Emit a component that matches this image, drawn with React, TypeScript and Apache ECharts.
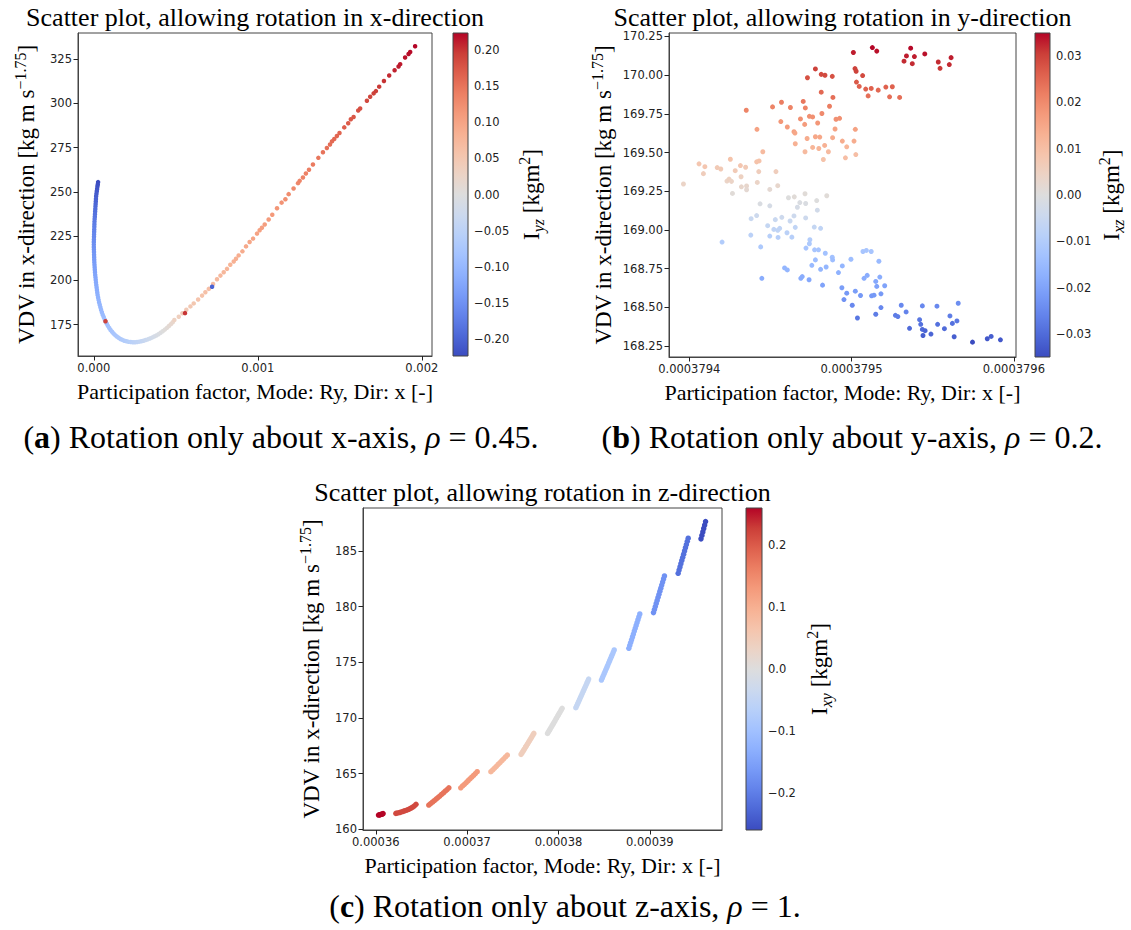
import React, { useEffect, useRef } from "react";
import * as echarts from "echarts";

// matplotlib "coolwarm" colormap, 17 evenly spaced stops
const COOLWARM = ["#3b4cc0", "#4d68d7", "#6282ea", "#779af7", "#8db0fe", "#a3c2ff", "#b8d0f9", "#ccd9ee", "#dddddd", "#ecd3c5", "#f5c4ac", "#f7b193", "#f49a7b", "#ec7f63", "#de604d", "#cb3e38", "#b40426"];

// ---------- Panel (a): rotation about x ----------
const pfA = [
  0.026e-3, 0.024e-3, 0.022e-3, 0.020e-3, 0.018e-3, 0.016e-3, 0.014e-3, 0.013e-3, 0.012e-3, 0.011e-3,
  0.010e-3, 0.009e-3, 0.008e-3, 0.007e-3, 0.006e-3, 0.005e-3, 0.004e-3, 0.0035e-3, 0.003e-3, 0.0025e-3,
  0.002e-3, 0.0015e-3, 0.001e-3, 0.0005e-3, 0.0, 0.0, 0.0, 0.0005e-3, 0.001e-3, 0.0015e-3,
  0.002e-3, 0.0025e-3, 0.003e-3, 0.004e-3, 0.005e-3, 0.006e-3, 0.007e-3, 0.0085e-3, 0.010e-3, 0.0115e-3,
  0.013e-3, 0.015e-3, 0.017e-3, 0.019e-3, 0.021e-3, 0.023e-3, 0.026e-3, 0.029e-3, 0.032e-3, 0.036e-3,
  0.040e-3, 0.044e-3, 0.049e-3, 0.054e-3, 0.060e-3, 0.066e-3, 0.072e-3, 0.079e-3, 0.086e-3, 0.094e-3,
  0.102e-3, 0.111e-3, 0.120e-3, 0.130e-3, 0.140e-3, 0.151e-3, 0.162e-3, 0.174e-3, 0.186e-3, 0.199e-3,
  0.212e-3, 0.225e-3, 0.238e-3, 0.251e-3, 0.264e-3, 0.277e-3, 0.290e-3, 0.303e-3, 0.316e-3, 0.329e-3,
  0.342e-3, 0.355e-3, 0.368e-3, 0.381e-3, 0.394e-3, 0.407e-3, 0.420e-3, 0.433e-3, 0.446e-3, 0.458e-3,
  0.470e-3, 0.481e-3,
  0.491e-3, 0.518e-3, 0.540e-3, 0.564e-3, 0.589e-3, 0.609e-3, 0.636e-3, 0.660e-3, 0.680e-3, 0.701e-3,
  0.727e-3, 0.751e-3, 0.772e-3, 0.792e-3, 0.812e-3, 0.832e-3, 0.853e-3, 0.867e-3, 0.883e-3, 0.906e-3,
  0.928e-3, 0.950e-3, 0.971e-3, 0.995e-3, 1.011e-3, 1.025e-3, 1.042e-3, 1.066e-3, 1.088e-3, 1.117e-3,
  1.145e-3, 1.168e-3, 1.188e-3, 1.218e-3, 1.245e-3, 1.255e-3, 1.275e-3, 1.293e-3, 1.312e-3, 1.336e-3,
  1.369e-3, 1.397e-3, 1.421e-3, 1.440e-3, 1.452e-3, 1.466e-3, 1.482e-3, 1.498e-3, 1.527e-3, 1.551e-3,
  1.567e-3, 1.584e-3, 1.612e-3, 1.624e-3, 1.665e-3, 1.685e-3, 1.706e-3, 1.720e-3, 1.740e-3, 1.769e-3,
  1.801e-3, 1.834e-3, 1.858e-3, 1.868e-3, 1.898e-3, 1.919e-3, 1.929e-3, 1.959e-3,
  0.071e-3, 0.556e-3, 0.721e-3,
];
const vdvA = [
  255.5, 254.2, 253.0, 251.6, 250.3, 248.9, 247.5, 246.0, 244.6, 243.2,
  241.8, 240.3, 238.9, 237.4, 236.0, 234.6, 233.2, 231.7, 230.3, 228.8,
  227.4, 226.0, 224.6, 223.1, 221.7, 220.2, 218.8, 217.4, 216.0, 214.5,
  213.1, 211.7, 210.3, 208.8, 207.4, 206.0, 204.6, 203.1, 201.7, 200.3,
  198.9, 197.4, 196.0, 194.6, 193.2, 191.8, 190.4, 189.0, 187.6, 186.2,
  184.8, 183.4, 182.0, 180.6, 179.3, 178.0, 176.7, 175.5, 174.3, 173.1,
  172.0, 171.0, 170.0, 169.1, 168.3, 167.6, 166.9, 166.4, 165.9, 165.6,
  165.3, 165.2, 165.1, 165.1, 165.2, 165.4, 165.6, 165.9, 166.3, 166.7,
  167.2, 167.7, 168.3, 168.9, 169.6, 170.4, 171.3, 172.2, 173.2, 174.2,
  175.3, 176.4,
  177.6, 179.5, 181.4, 183.4, 185.3, 187.0, 189.2, 191.4, 193.3, 195.2,
  198.0, 200.6, 202.7, 204.6, 206.5, 208.8, 210.7, 212.2, 214.1, 216.4,
  219.2, 221.7, 223.6, 226.4, 228.3, 229.7, 231.6, 234.4, 237.1, 240.7,
  243.9, 245.8, 248.7, 251.9, 254.9, 256.2, 258.1, 260.4, 262.5, 265.4,
  269.2, 272.4, 274.8, 276.7, 278.5, 279.8, 281.5, 283.2, 286.4, 288.7,
  291.0, 292.3, 295.9, 297.1, 301.4, 303.7, 305.6, 306.9, 309.4, 312.6,
  315.7, 318.7, 320.8, 322.1, 325.9, 327.8, 329.0, 332.2,
  176.9, 181.5, 196.4,
];
const iyzA = [
  -0.223, -0.221, -0.218, -0.215, -0.212, -0.209, -0.206, -0.203, -0.200, -0.197,
  -0.194, -0.191, -0.188, -0.185, -0.182, -0.179, -0.176, -0.173, -0.170, -0.168,
  -0.165, -0.162, -0.160, -0.157, -0.155, -0.152, -0.150, -0.148, -0.145, -0.143,
  -0.141, -0.139, -0.137, -0.135, -0.133, -0.131, -0.129, -0.127, -0.125, -0.123,
  -0.121, -0.119, -0.117, -0.115, -0.113, -0.111, -0.109, -0.107, -0.105, -0.103,
  -0.101, -0.099, -0.097, -0.095, -0.093, -0.091, -0.089, -0.087, -0.085, -0.083,
  -0.081, -0.079, -0.077, -0.075, -0.073, -0.071, -0.069, -0.066, -0.064, -0.061,
  -0.058, -0.055, -0.052, -0.049, -0.046, -0.043, -0.040, -0.036, -0.032, -0.028,
  -0.024, -0.020, -0.016, -0.012, -0.008, -0.004, 0.000, 0.004, 0.008, 0.012,
  0.016, 0.020,
  0.030, 0.036, 0.040, 0.044, 0.048, 0.051, 0.055, 0.058, 0.061, 0.064,
  0.067, 0.070, 0.073, 0.075, 0.078, 0.080, 0.083, 0.085, 0.087, 0.090,
  0.093, 0.096, 0.098, 0.101, 0.103, 0.105, 0.107, 0.110, 0.113, 0.116,
  0.119, 0.122, 0.125, 0.128, 0.131, 0.133, 0.135, 0.137, 0.140, 0.143,
  0.147, 0.150, 0.153, 0.156, 0.158, 0.160, 0.162, 0.164, 0.168, 0.171,
  0.173, 0.175, 0.179, 0.181, 0.186, 0.189, 0.192, 0.194, 0.197, 0.201,
  0.205, 0.209, 0.212, 0.213, 0.217, 0.219, 0.220, 0.223,
  0.19, 0.20, -0.20,
];

// ---------- Panel (b): rotation about y ----------
const pfB = [
  0.0003795011, 0.0003795128, 0.0003795155, 0.0003795364, 0.0003795338, 0.0003795387, 0.0003795451, 0.0003795323, 0.0003795374, 0.0003795534,
  0.0003795545, 0.0003795602, 0.0003795613, 0.0003794728, 0.0003794777, 0.0003794813, 0.0003794836, 0.0003794881, 0.0003795021, 0.0003795028,
  0.0003795068, 0.000379503, 0.0003795047, 0.0003795087, 0.0003795121, 0.0003795102, 0.0003795164, 0.0003795211, 0.0003795251, 0.0003795234,
  0.0003795296, 0.0003794813, 0.0003794885, 0.0003794864, 0.0003794702, 0.0003794568, 0.0003794513, 0.0003794623, 0.0003794715, 0.0003794351,
  0.0003794564, 0.0003794604, 0.0003794685, 0.000379474, 0.000379476, 0.0003794817, 0.0003794711, 0.0003794791, 0.0003794904, 0.0003794926,
  0.0003794898, 0.0003795023, 0.0003794645, 0.0003794651, 0.0003794726, 0.0003794777, 0.0003794804, 0.0003794883, 0.0003794943, 0.000379497,
  0.0003795015, 0.0003795026, 0.0003794653, 0.000379476, 0.0003794834, 0.0003794798, 0.0003794857, 0.0003794713, 0.0003794826, 0.0003794962,
  0.0003794417, 0.0003794453, 0.000379406, 0.0003794096, 0.0003794087, 0.0003794172, 0.0003794194, 0.0003794253, 0.0003794283, 0.0003794315,
  0.0003794347, 0.000379443, 0.0003794415, 0.0003794428, 0.0003794319, 0.0003794232, 0.0003794245, 0.000379426, 0.0003794321, 0.0003794353,
  0.0003794266, 0.0003794419, 0.0003794534, 0.0003794496, 0.0003794545, 0.0003794353, 0.0003793964, 0.0003794436, 0.0003794611, 0.0003794647,
  0.0003794713, 0.0003794681, 0.0003794785, 0.0003794847, 0.0003794666, 0.0003794717, 0.0003794789, 0.0003794496, 0.0003794381, 0.0003794415,
  0.0003794483, 0.000379453, 0.000379457, 0.0003794621, 0.0003794645, 0.0003794521, 0.0003794545, 0.0003794557, 0.0003794496, 0.0003794547,
  0.0003794602, 0.0003794632, 0.0003794653, 0.0003794717, 0.000379477, 0.0003794809, 0.0003794379, 0.000379444, 0.0003794202, 0.0003794743,
  0.000379474, 0.0003794719, 0.0003794772, 0.0003794796, 0.0003794838, 0.0003794777, 0.0003794755, 0.0003794809, 0.0003794881, 0.0003794883,
  0.0003794843, 0.0003794996, 0.000379507, 0.0003795091, 0.0003795121, 0.0003795168, 0.0003794919, 0.0003794943, 0.0003794587, 0.0003794604,
  0.0003794447, 0.0003794687, 0.0003794696, 0.0003794738, 0.0003794821, 0.0003795077, 0.0003795096, 0.0003795149, 0.0003795174, 0.0003795155,
  0.0003795204, 0.000379494, 0.000379497, 0.0003795023, 0.0003794953, 0.0003795055, 0.0003795123, 0.0003795138, 0.0003795181, 0.0003795004,
  0.0003795036, 0.0003795149, 0.0003795181, 0.0003795306, 0.0003795336, 0.000379527, 0.0003795285, 0.0003795436, 0.0003795526, 0.0003795657,
  0.0003795357, 0.0003795419, 0.0003795426, 0.0003795436, 0.0003795453, 0.000379544, 0.0003795489, 0.000379553, 0.0003795572, 0.0003795606,
  0.0003795621, 0.0003795649, 0.0003795632, 0.0003795745, 0.0003795836, 0.000379586, 0.0003795917,
];
const vdvB = [
  170.146, 170.178, 170.155, 170.174, 170.124, 170.120, 170.137, 170.090, 170.074, 170.085,
  170.044, 170.068, 170.113, 169.983, 170.040, 170.005, 169.999, 169.992, 170.042, 170.025,
  169.997, 169.955, 169.927, 169.910, 169.914, 169.866, 169.903, 169.923, 169.925, 169.860,
  169.856, 169.890, 169.856, 169.799, 169.830, 169.825, 169.795, 169.791, 169.788, 169.773,
  169.700, 169.665, 169.717, 169.734, 169.730, 169.752, 169.682, 169.691, 169.715, 169.721,
  169.652, 169.650, 169.635, 169.626, 169.591, 169.602, 169.600, 169.596, 169.574, 169.537,
  169.574, 169.487, 169.557, 169.533, 169.546, 169.526, 169.505, 169.505, 169.455, 169.466,
  169.650, 169.505, 169.427, 169.409, 169.364, 169.403, 169.394, 169.457, 169.383, 169.416,
  169.405, 169.446, 169.440, 169.377, 169.344, 169.316, 169.329, 169.314, 169.279, 169.284,
  169.236, 169.307, 169.377, 169.262, 169.286, 169.260, 169.297, 169.169, 169.208, 169.214,
  169.234, 169.177, 169.190, 169.221, 169.147, 169.171, 169.128, 169.156, 169.073, 169.093,
  169.028, 169.067, 169.082, 169.058, 169.091, 169.004, 168.998, 169.011, 168.961, 168.952,
  168.982, 168.954, 169.017, 169.078, 169.019, 169.011, 168.967, 168.891, 168.922, 168.937,
  168.911, 168.883, 168.872, 168.872, 168.850, 168.807, 168.772, 168.746, 168.824, 168.807,
  168.761, 168.811, 168.861, 168.868, 168.861, 168.798, 168.725, 168.768, 168.755, 168.742,
  168.688, 168.688, 168.699, 168.679, 168.644, 168.688, 168.707, 168.668, 168.696, 168.636,
  168.640, 168.627, 168.592, 168.605, 168.551, 168.577, 168.575, 168.579, 168.588, 168.514,
  168.432, 168.456, 168.499, 168.514, 168.471, 168.449, 168.441, 168.510, 168.508, 168.527,
  168.365, 168.421, 168.391, 168.358, 168.350, 168.319, 168.328, 168.391, 168.363, 168.445,
  168.397, 168.413, 168.311, 168.276, 168.298, 168.313, 168.291,
];
const ixzB = [
  0.033, 0.0349, 0.034, 0.0345, 0.033, 0.033, 0.034, 0.032, 0.032, 0.032,
  0.031, 0.032, 0.033, 0.028, 0.030, 0.029, 0.029, 0.028, 0.030, 0.030,
  0.029, 0.027, 0.026, 0.026, 0.026, 0.024, 0.025, 0.026, 0.026, 0.024,
  0.024, 0.025, 0.024, 0.022, 0.023, 0.022, 0.021, 0.021, 0.021, 0.021,
  0.018, 0.017, 0.019, 0.019, 0.019, 0.020, 0.017, 0.018, 0.019, 0.019,
  0.016, 0.016, 0.016, 0.015, 0.014, 0.015, 0.015, 0.014, 0.014, 0.012,
  0.014, 0.010, 0.013, 0.012, 0.013, 0.012, 0.011, 0.011, 0.009, 0.010,
  0.016, 0.011, 0.008, 0.008, 0.006, 0.007, 0.007, 0.009, 0.007, 0.008,
  0.007, 0.009, 0.009, 0.006, 0.005, 0.004, 0.005, 0.004, 0.003, 0.003,
  0.001, 0.004, 0.006, 0.002, 0.003, 0.002, 0.004, -0.001, 0.000, 0.001,
  0.001, -0.001, 0.000, 0.001, -0.002, -0.001, -0.003, -0.002, -0.005, -0.004,
  -0.006, -0.005, -0.004, -0.005, -0.004, -0.007, -0.007, -0.007, -0.009, -0.009,
  -0.008, -0.009, -0.007, -0.004, -0.006, -0.007, -0.008, -0.011, -0.010, -0.010,
  -0.011, -0.012, -0.012, -0.012, -0.013, -0.014, -0.015, -0.016, -0.013, -0.014,
  -0.016, -0.014, -0.012, -0.012, -0.012, -0.015, -0.017, -0.016, -0.016, -0.016,
  -0.018, -0.018, -0.018, -0.019, -0.020, -0.018, -0.018, -0.019, -0.018, -0.020,
  -0.020, -0.021, -0.022, -0.021, -0.023, -0.022, -0.022, -0.022, -0.022, -0.025,
  -0.028, -0.027, -0.025, -0.025, -0.026, -0.027, -0.027, -0.025, -0.025, -0.024,
  -0.030, -0.028, -0.029, -0.030, -0.031, -0.032, -0.031, -0.029, -0.030, -0.027,
  -0.029, -0.028, -0.032, -0.0349, -0.033, -0.032, -0.033,
];

// ---------- Panel (c): rotation about z (13 streaks) ----------
const pfC = [
  0.0003603, 0.0003604, 0.0003605, 0.0003606, 0.0003607, 0.0003608,
  0.0003622, 0.0003624, 0.0003626, 0.0003628, 0.000363, 0.0003632, 0.0003634, 0.0003636, 0.0003638, 0.000364, 0.0003642, 0.0003644,
  0.0003658, 0.000366, 0.0003662, 0.0003664, 0.0003666, 0.0003668, 0.000367, 0.0003672, 0.0003674, 0.0003676, 0.0003678, 0.000368,
  0.0003693, 0.0003695, 0.0003697, 0.0003699, 0.0003701, 0.0003703, 0.0003705, 0.0003707, 0.0003709, 0.0003711,
  0.0003726, 0.0003728, 0.000373, 0.0003732, 0.0003734, 0.0003736, 0.0003738, 0.000374, 0.0003742, 0.0003744,
  0.0003759, 0.000376, 0.0003761, 0.0003762, 0.0003763, 0.0003764, 0.0003765, 0.0003766, 0.0003767, 0.0003768, 0.0003769, 0.000377, 0.0003771, 0.0003772, 0.0003773,
  0.0003788, 0.0003789, 0.000379, 0.0003791, 0.0003792, 0.0003793, 0.0003794, 0.0003795, 0.0003796, 0.0003797, 0.0003798, 0.0003799, 0.00038, 0.0003801, 0.0003802, 0.0003803, 0.0003804,
  0.0003819, 0.000382, 0.0003821, 0.0003822, 0.0003823, 0.0003824, 0.0003825, 0.0003826, 0.0003827, 0.0003828, 0.0003829, 0.000383, 0.0003831, 0.0003832, 0.0003833,
  0.0003847, 0.0003848, 0.0003849, 0.000385, 0.0003851, 0.0003852, 0.0003853, 0.0003854, 0.0003855, 0.0003856, 0.0003857, 0.0003858, 0.0003859, 0.000386, 0.0003861,
  0.0003877, 0.0003878, 0.0003879, 0.000388, 0.0003881, 0.0003882, 0.0003883, 0.0003884, 0.0003885, 0.0003886, 0.0003887, 0.0003888, 0.0003889,
  0.0003904, 0.0003905, 0.0003906, 0.0003907, 0.0003908, 0.0003909, 0.000391, 0.0003911, 0.0003912, 0.0003913, 0.0003914, 0.0003915, 0.0003916,
  0.0003931, 0.0003932, 0.0003933, 0.0003934, 0.0003935, 0.0003936, 0.0003937, 0.0003938, 0.0003939, 0.000394, 0.0003941, 0.0003942,
  0.0003956, 0.0003957, 0.0003958, 0.0003959, 0.000396, 0.0003961,
];
const vdvC = [
  161.29, 161.31, 161.33, 161.36, 161.38, 161.42,
  161.44, 161.48, 161.52, 161.57, 161.62, 161.68, 161.74, 161.81, 161.89, 161.98, 162.1, 162.25,
  162.19, 162.32, 162.45, 162.58, 162.72, 162.86, 163.0, 163.14, 163.28, 163.43, 163.58, 163.74,
  163.74, 163.9, 164.05, 164.21, 164.37, 164.53, 164.69, 164.85, 165.01, 165.18,
  165.18, 165.34, 165.51, 165.67, 165.84, 166.0, 166.17, 166.34, 166.51, 166.68,
  166.74, 166.87, 167.0, 167.13, 167.26, 167.4, 167.53, 167.66, 167.8, 167.93, 168.07, 168.2, 168.34, 168.48, 168.62,
  168.62, 168.76, 168.89, 169.03, 169.17, 169.31, 169.45, 169.59, 169.73, 169.88, 170.02, 170.16, 170.3, 170.44, 170.58, 170.73, 170.87,
  170.93, 171.11, 171.29, 171.47, 171.65, 171.84, 172.02, 172.2, 172.39, 172.57, 172.76, 172.94, 173.13, 173.31, 173.5,
  173.41, 173.6, 173.79, 173.98, 174.17, 174.37, 174.56, 174.75, 174.95, 175.14, 175.34, 175.53, 175.72, 175.92, 176.11,
  176.26, 176.51, 176.77, 177.02, 177.28, 177.54, 177.8, 178.05, 178.31, 178.57, 178.83, 179.08, 179.34,
  179.46, 179.73, 180.0, 180.28, 180.55, 180.83, 181.1, 181.38, 181.65, 181.93, 182.2, 182.48, 182.75,
  182.99, 183.28, 183.56, 183.85, 184.14, 184.42, 184.71, 185.0, 185.29, 185.57, 185.86, 186.14,
  186.08, 186.39, 186.7, 187.01, 187.32, 187.63,
];
const ixyC = [
  0.259, 0.259, 0.259, 0.259, 0.259, 0.259,
  0.216, 0.216, 0.216, 0.216, 0.216, 0.216, 0.216, 0.216, 0.216, 0.216, 0.216, 0.216,
  0.173, 0.173, 0.173, 0.173, 0.173, 0.173, 0.173, 0.173, 0.173, 0.173, 0.173, 0.173,
  0.13, 0.13, 0.13, 0.13, 0.13, 0.13, 0.13, 0.13, 0.13, 0.13,
  0.086, 0.086, 0.086, 0.086, 0.086, 0.086, 0.086, 0.086, 0.086, 0.086,
  0.043, 0.043, 0.043, 0.043, 0.043, 0.043, 0.043, 0.043, 0.043, 0.043, 0.043, 0.043, 0.043, 0.043, 0.043,
  0, 0, 0, 0, 0, 0, 0, 0, 0, 0, 0, 0, 0, 0, 0, 0, 0,
  -0.043, -0.043, -0.043, -0.043, -0.043, -0.043, -0.043, -0.043, -0.043, -0.043, -0.043, -0.043, -0.043, -0.043, -0.043,
  -0.086, -0.086, -0.086, -0.086, -0.086, -0.086, -0.086, -0.086, -0.086, -0.086, -0.086, -0.086, -0.086, -0.086, -0.086,
  -0.13, -0.13, -0.13, -0.13, -0.13, -0.13, -0.13, -0.13, -0.13, -0.13, -0.13, -0.13, -0.13,
  -0.173, -0.173, -0.173, -0.173, -0.173, -0.173, -0.173, -0.173, -0.173, -0.173, -0.173, -0.173, -0.173,
  -0.216, -0.216, -0.216, -0.216, -0.216, -0.216, -0.216, -0.216, -0.216, -0.216, -0.216, -0.216,
  -0.259, -0.259, -0.259, -0.259, -0.259, -0.259,
];

// ---------- Tick values ----------
const TICKS_A_X = [0, 0.001, 0.002];
const TICKS_A_Y = [175, 200, 225, 250, 275, 300, 325];
const TICKS_A_C = [-0.2, -0.15, -0.1, -0.05, 0, 0.05, 0.1, 0.15, 0.2];
const TICKS_B_X = [0.0003794, 0.0003795, 0.0003796];
const TICKS_B_Y = [168.25, 168.5, 168.75, 169.0, 169.25, 169.5, 169.75, 170.0, 170.25];
const TICKS_B_C = [-0.03, -0.02, -0.01, 0, 0.01, 0.02, 0.03];
const TICKS_C_X = [0.00036, 0.00037, 0.00038, 0.00039];
const TICKS_C_Y = [160, 165, 170, 175, 180, 185];
const TICKS_C_C = [-0.2, -0.1, 0, 0.1, 0.2];

const TITLES = [
  "Scatter plot, allowing rotation in x-direction",
  "Scatter plot, allowing rotation in y-direction",
  "Scatter plot, allowing rotation in z-direction",
];
const X_NAME = "Participation factor, Mode: Ry, Dir: x [-]";

const SERIF = '"Liberation Serif", "Times New Roman", serif';
const SANS = '"DejaVu Sans", sans-serif';

const fmt = (d: number) => (v: number) => {
  const a = Math.abs(v) < 1e-15 ? 0 : v;
  return (a < 0 ? "\u2212" : "") + Math.abs(a).toFixed(d);
};

const PANELS = [
  {
    plot: { left: 78, top: 33, width: 354, height: 323 }, bar: { left: 453, width: 15 },
    xr: [-0.0000965, 0.002062], yr: [157.3, 339.7], cr: [-0.2232, 0.2232],
    xt: TICKS_A_X, yt: TICKS_A_Y, ct: TICKS_A_C, xd: 3, yd: 0, cd: 2,
    xs: pfA, ys: vdvA, cs: iyzA, size: 4.5, sub: "yz", yGap: 38, cGap: 48, title: TITLES[0],
  },
  {
    plot: { left: 669, top: 33, width: 347, height: 324 }, bar: { left: 1035, width: 15 },
    xr: [0.0003793875, 0.0003796013], yr: [168.18, 170.272], cr: [-0.0349, 0.0349],
    xt: TICKS_B_X, yt: TICKS_B_Y, ct: TICKS_B_C, xd: 7, yd: 2, cd: 2,
    xs: pfB, ys: vdvB, cs: ixzB, size: 5, sub: "xz", yGap: 52, cGap: 46, title: TITLES[1],
  },
  {
    plot: { left: 363, top: 508, width: 359, height: 322 }, bar: { left: 746, width: 16 },
    xr: [0.0003586, 0.0003979], yr: [159.95, 188.85], cr: [-0.259, 0.259],
    xt: TICKS_C_X, yt: TICKS_C_Y, ct: TICKS_C_C, xd: 5, yd: 0, cd: 1,
    xs: pfC, ys: vdvC, cs: ixyC, size: 5.5, sub: "xy", yGap: 38, cGap: 42, title: TITLES[2],
  },
];

const CAPTIONS = [
  { text: "{n|(}{b|a}{n|) Rotation only about x-axis, }{i|\u03c1}{n| = 0.45.}", x: 281, y: 437 },
  { text: "{n|(}{b|b}{n|) Rotation only about y-axis, }{i|\u03c1}{n| = 0.2.}", x: 852, y: 437 },
  { text: "{n|(}{b|c}{n|) Rotation only about z-axis, }{i|\u03c1}{n| = 1.}", x: 565, y: 906 },
];

export default function App() {
  const ref = useRef<HTMLDivElement>(null);
  useEffect(() => {
    if (!ref.current) return;
    const chart = echarts.init(ref.current, undefined, { renderer: "svg" });
    const grid: any[] = [];
    const xAxis: any[] = [];
    const yAxis: any[] = [];
    const series: any[] = [];
    const visualMap: any[] = [];
    const graphic: any[] = [];
    const tickStyle = { show: true, length: 4.5, lineStyle: { color: "#222", width: 1 } };
    const labelStyle = { fontFamily: SANS, fontSize: 11.5, color: "#222" };
    const stops = COOLWARM.map((c, k) => ({ offset: k / (COOLWARM.length - 1), color: c }));

    PANELS.forEach((p, i) => {
      grid.push({ ...p.plot, show: true, borderColor: "#444", borderWidth: 1, backgroundColor: "#fff" });
      grid.push({ left: p.bar.left, width: p.bar.width, top: p.plot.top, height: p.plot.height, show: false });
      xAxis.push({
        gridIndex: 2 * i, type: "value", min: p.xr[0], max: p.xr[1],
        axisLine: { show: true, onZero: false, lineStyle: { color: "#444" } },
        axisTick: { ...tickStyle, customValues: p.xt },
        axisLabel: { ...labelStyle, margin: 6, customValues: p.xt, formatter: fmt(p.xd) },
        splitLine: { show: false },
        name: X_NAME, nameLocation: "middle", nameGap: 24,
        nameTextStyle: { fontFamily: SERIF, fontSize: 22, color: "#000" },
      });
      xAxis.push({ gridIndex: 2 * i + 1, type: "value", min: 0, max: 1, show: false });
      yAxis.push({
        gridIndex: 2 * i, type: "value", min: p.yr[0], max: p.yr[1],
        axisLine: { show: true, onZero: false, lineStyle: { color: "#444" } },
        axisTick: { ...tickStyle, customValues: p.yt },
        axisLabel: { ...labelStyle, margin: 6, customValues: p.yt, formatter: fmt(p.yd) },
        splitLine: { show: false },
        name: "{n|VDV in x-direction [kg m s}{s|\u22121.75}{n|]}",
        nameLocation: "middle", nameRotate: 90, nameGap: p.yGap,
        nameTextStyle: {
          rich: {
            n: { fontFamily: SERIF, fontSize: 23, color: "#000", lineHeight: 28 },
            s: { fontFamily: SERIF, fontSize: 16, color: "#000", verticalAlign: "top", lineHeight: 28 },
          },
        },
      });
      yAxis.push({
        gridIndex: 2 * i + 1, type: "value", position: "right", min: p.cr[0], max: p.cr[1],
        axisLine: { show: false },
        axisTick: { ...tickStyle, customValues: p.ct },
        axisLabel: { ...labelStyle, margin: 6, customValues: p.ct, formatter: fmt(p.cd) },
        splitLine: { show: false },
        name: `{n|I}{b|${p.sub}}{n| [kgm}{s|2}{n|]}`,
        nameLocation: "middle", nameRotate: 90, nameGap: p.cGap,
        nameTextStyle: {
          rich: {
            n: { fontFamily: SERIF, fontSize: 23, color: "#000", lineHeight: 30 },
            b: { fontFamily: SERIF, fontSize: 16, fontStyle: "italic", color: "#000", verticalAlign: "bottom", lineHeight: 30 },
            s: { fontFamily: SERIF, fontSize: 16, color: "#000", verticalAlign: "top", lineHeight: 30 },
          },
        },
      });
      series.push({
        type: "scatter", xAxisIndex: 2 * i, yAxisIndex: 2 * i,
        symbolSize: p.size, itemStyle: { opacity: 1 },
        data: p.xs.map((x, k) => [x, p.ys[k], p.cs[k]]),
        silent: true,
      });
      series.push({
        type: "custom", xAxisIndex: 2 * i + 1, yAxisIndex: 2 * i + 1, clip: false, silent: true,
        data: [[0.5, 0]],
        renderItem: (params: any) => {
          const cs = params.coordSys;
          return {
            type: "rect",
            shape: { x: cs.x, y: cs.y, width: cs.width, height: cs.height },
            style: { fill: new echarts.graphic.LinearGradient(0, 1, 0, 0, stops), stroke: "#444", lineWidth: 1 },
          };
        },
      });
      visualMap.push({
        type: "continuous", show: false, seriesIndex: 2 * i, dimension: 2,
        min: p.cr[0], max: p.cr[1], inRange: { color: COOLWARM },
      });
      graphic.push({
        type: "text", x: p.plot.left + p.plot.width / 2, y: p.plot.top - 16,
        style: {
          text: p.title, fill: "#000", font: `26px ${SERIF}`,
          align: "center", verticalAlign: "middle", textAlign: "center", textVerticalAlign: "middle",
        },
      });
    });

    CAPTIONS.forEach((c) => {
      graphic.push({
        type: "text", x: c.x, y: c.y,
        style: {
          text: c.text, align: "center", verticalAlign: "middle", textAlign: "center", textVerticalAlign: "middle",
          rich: {
            n: { fontFamily: SERIF, fontSize: 32, fill: "#000", color: "#000" },
            b: { fontFamily: SERIF, fontSize: 32, fontWeight: "bold", fill: "#000", color: "#000" },
            i: { fontFamily: SERIF, fontSize: 32, fontStyle: "italic", fill: "#000", color: "#000" },
          },
        },
      });
    });

    chart.setOption({
      animation: false,
      backgroundColor: "#fff",
      grid, xAxis, yAxis, series, visualMap, graphic,
    });
    return () => chart.dispose();
  }, []);
  return <div ref={ref} style={{ position: "absolute", left: 0, top: 0, width: 1131, height: 930 }} />;
}
